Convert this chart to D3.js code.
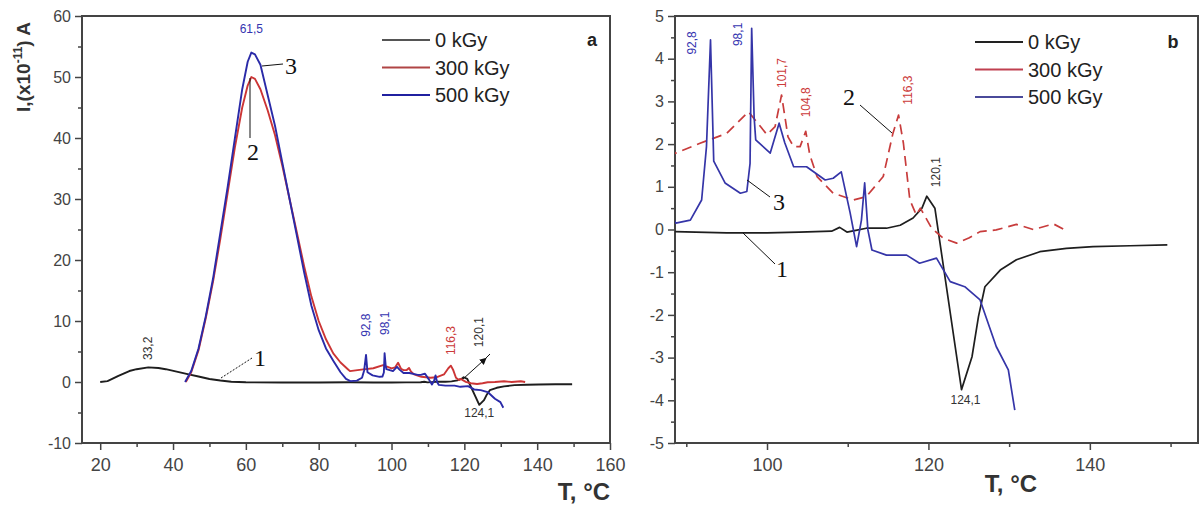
<!DOCTYPE html>
<html>
<head>
<meta charset="utf-8">
<script src="https://cdn.jsdelivr.net/npm/d3@7/dist/d3.min.js"></script>
<style>
  body { margin: 0; background: #fff; }
  svg { display: block; font-family: Arial, "Liberation Sans", sans-serif; }
</style>
</head>
<body>
<svg width="1202" height="506"></svg>
<script>
// series: temperature (°C) and current I (x10^-11 A)
const t0 = [20, 22, 25, 28, 30, 33.2, 36, 38, 41, 44, 47, 50, 53, 56, 60, 70, 80, 88.6, 95, 100, 104, 108, 109, 109.9, 111, 112.3, 114.8, 116.5, 118.1, 119.2, 119.8, 120.8, 124.1, 125.4, 126.2, 127, 128.9, 130.9, 133.8, 137.1, 140.4, 145, 149.6];
const i0 = [0, 0.15, 1.0, 1.8, 2.1, 2.4, 2.3, 2.1, 1.7, 1.3, 0.9, 0.5, 0.25, 0.05, -0.05, -0.08, -0.08, -0.05, -0.08, -0.08, -0.06, -0.04, 0.05, -0.06, -0.02, 0.03, 0.03, 0.1, 0.27, 0.5, 0.78, 0.5, -3.75, -2.98, -2.04, -1.34, -0.95, -0.71, -0.52, -0.44, -0.4, -0.38, -0.36];

const t300 = [43.5, 45, 47, 49, 51, 53, 55, 57, 59, 60.5, 61.5, 62.5, 64, 66, 68, 70, 72, 74, 76, 78, 80, 82, 84, 86, 88, 88.6, 91.7, 95, 97.7, 100, 101, 101.8, 102.6, 103.3, 104.1, 104.8, 105.3, 106.2, 108.2, 110.7, 112.3, 114.4, 115.6, 116.3, 116.9, 117.7, 118.5, 119, 120.4, 121.8, 123.5, 125, 126.4, 128.4, 130.9, 133, 135.5, 136.7];
const i300 = [0, 1.6, 5.2, 10.5, 16.5, 23.5, 31, 38.5, 45, 48.6, 50, 49.7, 48, 44.5, 40.5, 35.5, 30, 24.5, 19, 14, 10, 7, 4.7, 3.2, 2.1, 1.78, 2.02, 2.25, 2.76, 2.22, 2.41, 3.15, 2.17, 1.94, 1.94, 2.3, 1.75, 1.24, 0.85, 0.69, 0.77, 1.24, 2.25, 2.68, 2.02, 0.69, 0.34, 0.5, 0.03, -0.2, -0.32, -0.2, -0.05, -0.01, 0.12, 0, 0.13, 0.01];

const t500 = [43.3, 45, 47, 49, 51, 53, 55, 57, 59, 60.5, 61.5, 62.5, 64, 66, 68, 70, 72, 74, 76, 78, 80, 82, 84, 86, 87.5, 88.7, 90.5, 91.9, 92.5, 93, 93.4, 94.8, 96.7, 97.5, 97.9, 98.1, 98.4, 98.6, 100.4, 101.5, 102.2, 103.3, 104.9, 106.6, 107.2, 108.2, 109.2, 110.3, 111.1, 111.7, 112.1, 112.5, 113, 114.8, 117.3, 118.9, 121, 122.7, 124.5, 126.4, 128.4, 129.9, 130.7];
const i500 = [0, 1.8, 5.5, 10.8, 17, 24.5, 32, 40, 48, 52.5, 54, 53.7, 52, 47, 42, 36, 30, 24, 18, 12.5, 8.5, 5.5, 3.5, 1.6, 0.5, 0.15, 0.22, 0.69, 1.94, 4.44, 1.6, 1.09, 0.85, 0.89, 1.55, 4.71, 2.64, 2.1, 1.79, 2.49, 2.03, 1.47, 1.47, 1.24, 1.16, 1.2, 1.35, 0.39, -0.4, 0.22, 1.09, -0.01, -0.48, -0.6, -0.6, -0.79, -0.67, -1.22, -1.34, -1.65, -2.74, -3.29, -4.23];

const seriesNames = ["0 kGy", "300 kGy", "500 kGy"];

// axis ticks
const xTicksA = [20, 40, 60, 80, 100, 120, 140, 160];
const xMinorA = [30, 50, 70, 90, 110, 130, 150];
const yTicksA = [-10, 0, 10, 20, 30, 40, 50, 60];
const yMinorA = [-5, 5, 15, 25, 35, 45, 55];
const xTicksB = [100, 120, 140];
const xMinorB = [90, 110, 130, 150];
const yTicksB = [-5, -4, -3, -2, -1, 0, 1, 2, 3, 4, 5];
const yMinorB = [-4.5, -3.5, -2.5, -1.5, -0.5, 0.5, 1.5, 2.5, 3.5, 4.5];

const svg = d3.select("svg");
const toPts = (t, v) => t.map((d, k) => [d, v[k]]);
const data = [toPts(t0, i0), toPts(t300, i300), toPts(t500, i500)];
const fmt = d => String(d);

const panels = [
  {
    id: "a", left: 82, right: 610, top: 16, bottom: 443,
    xDom: [15, 160], yDom: [-10, 60],
    xTicks: xTicksA, xMinor: xMinorA, yTicks: yTicksA, yMinor: yMinorA,
    colors: ["#1e1e1e", "#cc3535", "#2a2aa8"],
    legColors: ["#555", "#b04545", "#2020a0"],
    dash: [null, null, null], width: 1.9,
    legX: 382, legY: 40, letterX: 592, titleX: 584, titleY: 500
  },
  {
    id: "b", left: 675, right: 1198, top: 16, bottom: 443,
    xDom: [88.6, 153.4], yDom: [-5, 5],
    xTicks: xTicksB, xMinor: xMinorB, yTicks: yTicksB, yMinor: yMinorB,
    colors: ["#1e1e1e", "#c83c3c", "#3535a8"],
    legColors: ["#222", "#c04050", "#4a4a9a"],
    dash: [null, "10,6", null], width: 1.7,
    legX: 975, legY: 42, letterX: 1173, titleX: 1011, titleY: 492
  }
];

panels.forEach(p => {
  const x = d3.scaleLinear().domain(p.xDom).range([p.left, p.right]);
  const y = d3.scaleLinear().domain(p.yDom).range([p.bottom, p.top]);
  p.x = x; p.y = y;
  const g = svg.append("g");

  svg.append("clipPath").attr("id", "clip-" + p.id)
    .append("rect")
    .attr("x", p.left).attr("y", p.top)
    .attr("width", p.right - p.left).attr("height", p.bottom - p.top);

  // axes
  const xAx = g.append("g").attr("transform", `translate(0,${p.bottom})`)
    .call(d3.axisBottom(x).tickValues(p.xTicks).tickFormat(fmt).tickSize(7).tickSizeOuter(0).tickPadding(8));
  g.append("g").attr("transform", `translate(0,${p.bottom})`)
    .call(d3.axisBottom(x).tickValues(p.xMinor).tickSize(4).tickFormat(""))
    .select(".domain").remove();
  const yAx = g.append("g").attr("transform", `translate(${p.left},0)`)
    .call(d3.axisLeft(y).tickValues(p.yTicks).tickFormat(fmt).tickSize(7).tickSizeOuter(0).tickPadding(4));
  g.append("g").attr("transform", `translate(${p.left},0)`)
    .call(d3.axisLeft(y).tickValues(p.yMinor).tickSize(4).tickFormat(""))
    .select(".domain").remove();

  g.selectAll(".tick line").attr("stroke", "#444").attr("stroke-width", 1.5);
  xAx.selectAll("text").attr("font-size", 18).attr("fill", "#444");
  yAx.selectAll("text").attr("font-size", 16).attr("fill", "#444");
  g.selectAll(".domain").remove();

  // frame
  g.append("rect")
    .attr("x", p.left).attr("y", p.top)
    .attr("width", p.right - p.left).attr("height", p.bottom - p.top)
    .attr("fill", "none").attr("stroke", "#444").attr("stroke-width", 2);

  // curves
  const line = d3.line().x(d => x(d[0])).y(d => y(d[1]));
  const cg = g.append("g").attr("clip-path", `url(#clip-${p.id})`);
  data.forEach((s, k) => {
    cg.append("path")
      .datum(s)
      .attr("d", line)
      .attr("fill", "none")
      .attr("stroke", p.colors[k])
      .attr("stroke-width", p.width)
      .attr("stroke-linejoin", "round")
      .attr("stroke-dasharray", p.dash[k]);
  });

  // legend
  seriesNames.forEach((n, k) => {
    const ly = p.legY + k * 27.5;
    g.append("line")
      .attr("x1", p.legX).attr("x2", p.legX + 48)
      .attr("y1", ly).attr("y2", ly)
      .attr("stroke", p.legColors[k]).attr("stroke-width", 1.8);
    g.append("text")
      .attr("x", p.legX + 53).attr("y", ly + 7)
      .attr("font-size", 20).attr("fill", "#222")
      .text(n);
  });

  g.append("text").attr("x", p.letterX).attr("y", p.legY + 6)
    .attr("font-size", 18).attr("font-weight", "bold").attr("fill", "#222")
    .attr("text-anchor", "middle").text(p.id);

  g.append("text").attr("x", p.titleX).attr("y", p.titleY)
    .attr("font-size", 24).attr("font-weight", "bold").attr("fill", "#333")
    .attr("text-anchor", "middle").text("T, °C");
});

// y title
const yt = svg.append("text")
  .attr("transform", "translate(30,67) rotate(-90)")
  .attr("text-anchor", "middle")
  .attr("font-size", 19).attr("font-weight", "bold").attr("fill", "#333");
yt.append("tspan").text("I,(x10");
yt.append("tspan").attr("font-size", 12).attr("dy", -8).text("-11");
yt.append("tspan").attr("dy", 8).text(") A");

// annotations
const pa = panels[0], pb = panels[1];
const BLUE = "#3434b0", RED = "#cc3a3a", BLK = "#333";

function vlabel(p, t, v, txt, col, dx, dy) {
  svg.append("text")
    .attr("transform", `translate(${p.x(t) + dx},${p.y(v) + dy}) rotate(-90)`)
    .attr("text-anchor", "middle").attr("dy", "0.35em")
    .attr("font-size", 12).attr("fill", col).text(txt);
}
function hlabel(p, t, v, txt, col, dx, dy) {
  svg.append("text")
    .attr("x", p.x(t) + dx).attr("y", p.y(v) + dy)
    .attr("text-anchor", "middle").attr("dy", "0.35em")
    .attr("font-size", 12).attr("fill", col).text(txt);
}
function num(p, xx, yy, txt) {
  svg.append("text").attr("x", xx).attr("y", yy)
    .attr("text-anchor", "middle").attr("dy", "0.35em")
    .attr("font-family", "'Liberation Serif', 'DejaVu Serif', serif")
    .attr("font-size", 24).attr("fill", "#111").text(txt);
}
function lead(x1, y1, x2, y2, dashed) {
  svg.append("line").attr("x1", x1).attr("y1", y1).attr("x2", x2).attr("y2", y2)
    .attr("stroke", "#111").attr("stroke-width", 1)
    .attr("stroke-dasharray", dashed ? "2,1.5" : null);
}

// panel a
hlabel(pa, 61.5, 54, "61,5", BLUE, 0, -24);
vlabel(pa, 33.2, 2.4, "33,2", BLK, 0, -19);
vlabel(pa, 92.8, 4.4, "92,8", BLUE, 0, -30);
vlabel(pa, 98.1, 4.7, "98,1", BLUE, 0, -30);
vlabel(pa, 116.3, 2.7, "116,3", RED, 0, -25);
vlabel(pa, 120.1, 0.8, "120,1", BLK, 14, -45);
hlabel(pa, 124.1, -3.75, "124,1", BLK, 0, 8);
lead(262, 66, 283, 64);
num(pa, 291, 66, "3");
lead(250, 78, 250, 138);
num(pa, 253, 152, "2");
lead(221, 378, 252, 358, true);
num(pa, 260, 358, "1");
// arrow to 120,1
svg.append("defs").append("marker").attr("id", "arr")
  .attr("viewBox", "0 0 10 10").attr("refX", 5).attr("refY", 5)
  .attr("markerWidth", 7).attr("markerHeight", 7).attr("orient", "auto")
  .append("path").attr("d", "M0,0 L10,5 L0,10 Z").attr("fill", "#111");
svg.append("line").attr("x1", 463).attr("y1", 379).attr("x2", 484).attr("y2", 360)
  .attr("stroke", "#111").attr("stroke-width", 1).attr("marker-end", "url(#arr)");
svg.append("line").attr("x1", 484).attr("y1", 360).attr("x2", 490).attr("y2", 354)
  .attr("stroke", "#111").attr("stroke-width", 1);

// panel b
vlabel(pb, 92.8, 4.44, "92,8", BLUE, -17, 3);
vlabel(pb, 98.1, 4.71, "98,1", BLUE, -14, 6);
vlabel(pb, 101.8, 3.15, "101,7", RED, 0, -22);
vlabel(pb, 104.8, 2.3, "104,8", RED, 0, -29);
vlabel(pb, 116.3, 2.68, "116,3", RED, 9, -25);
vlabel(pb, 120.1, 0.78, "120,1", BLK, 7, -24);
hlabel(pb, 124.1, -3.75, "124,1", BLK, 4, 10);
lead(860, 105, 892, 133);
num(pb, 849, 97, "2");
lead(747, 180, 770, 197);
num(pb, 779, 202, "3");
lead(743, 233, 775, 264);
num(pb, 782, 269, "1");
</script>
</body>
</html>
